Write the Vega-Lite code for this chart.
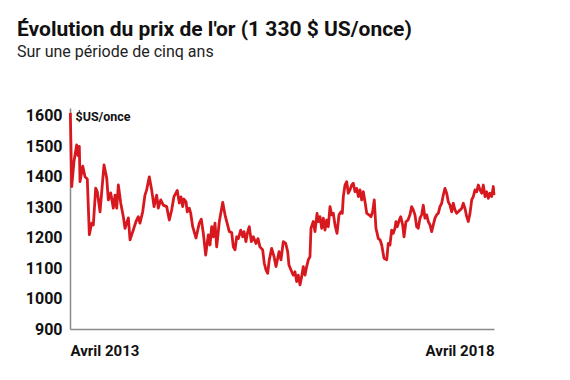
{
  "$schema": "https://vega.github.io/schema/vega-lite/v6.json",
  "width": 424,
  "height": 221,
  "autosize": {"type": "none"},
  "padding": {"left": 70, "top": 108, "right": 76, "bottom": 51},
  "background": "white",
  "config": {"view": {"stroke": null}},
  "title": {
    "text": "Évolution du prix de l'or (1 330 $ US/once)",
    "subtitle": "Sur une période de cinq ans",
    "anchor": "start",
    "frame": "group",
    "dx": -53,
    "offset": 48,
    "font": "Roboto",
    "fontSize": 21,
    "fontWeight": "bold",
    "color": "#111111",
    "subtitleFont": "Roboto",
    "subtitleFontSize": 16,
    "subtitleFontWeight": "normal",
    "subtitleColor": "#222222",
    "subtitlePadding": 4
  },
  "data": {
    "values": [
      {"annee": 2013.254, "prix": 1610},
      {"annee": 2013.270, "prix": 1368},
      {"annee": 2013.297, "prix": 1450},
      {"annee": 2013.329, "prix": 1505},
      {"annee": 2013.344, "prix": 1470},
      {"annee": 2013.360, "prix": 1500},
      {"annee": 2013.368, "prix": 1384},
      {"annee": 2013.400, "prix": 1435},
      {"annee": 2013.427, "prix": 1400},
      {"annee": 2013.454, "prix": 1393},
      {"annee": 2013.478, "prix": 1210},
      {"annee": 2013.506, "prix": 1248},
      {"annee": 2013.525, "prix": 1242},
      {"annee": 2013.553, "prix": 1363},
      {"annee": 2013.572, "prix": 1351},
      {"annee": 2013.604, "prix": 1285},
      {"annee": 2013.651, "prix": 1439},
      {"annee": 2013.683, "prix": 1396},
      {"annee": 2013.702, "prix": 1324},
      {"annee": 2013.730, "prix": 1347},
      {"annee": 2013.761, "prix": 1297},
      {"annee": 2013.781, "prix": 1340},
      {"annee": 2013.801, "prix": 1297},
      {"annee": 2013.820, "prix": 1373},
      {"annee": 2013.848, "prix": 1314},
      {"annee": 2013.879, "prix": 1269},
      {"annee": 2013.899, "prix": 1231},
      {"annee": 2013.938, "prix": 1265},
      {"annee": 2013.958, "prix": 1193},
      {"annee": 2013.996, "prix": 1225},
      {"annee": 2014.028, "prix": 1253},
      {"annee": 2014.055, "prix": 1269},
      {"annee": 2014.075, "prix": 1248},
      {"annee": 2014.107, "prix": 1285},
      {"annee": 2014.134, "prix": 1340},
      {"annee": 2014.154, "prix": 1357},
      {"annee": 2014.185, "prix": 1400},
      {"annee": 2014.213, "prix": 1357},
      {"annee": 2014.241, "prix": 1302},
      {"annee": 2014.272, "prix": 1340},
      {"annee": 2014.291, "prix": 1297},
      {"annee": 2014.320, "prix": 1324},
      {"annee": 2014.350, "prix": 1307},
      {"annee": 2014.390, "prix": 1302},
      {"annee": 2014.421, "prix": 1258},
      {"annee": 2014.449, "prix": 1291},
      {"annee": 2014.476, "prix": 1335},
      {"annee": 2014.515, "prix": 1355},
      {"annee": 2014.539, "prix": 1314},
      {"annee": 2014.559, "prix": 1334},
      {"annee": 2014.579, "prix": 1302},
      {"annee": 2014.594, "prix": 1327},
      {"annee": 2014.618, "prix": 1318},
      {"annee": 2014.633, "prix": 1285},
      {"annee": 2014.657, "prix": 1297},
      {"annee": 2014.673, "prix": 1281},
      {"annee": 2014.697, "prix": 1236},
      {"annee": 2014.736, "prix": 1199},
      {"annee": 2014.775, "prix": 1248},
      {"annee": 2014.798, "prix": 1261},
      {"annee": 2014.822, "prix": 1215},
      {"annee": 2014.850, "prix": 1143},
      {"annee": 2014.881, "prix": 1209},
      {"annee": 2014.901, "prix": 1176},
      {"annee": 2014.921, "prix": 1236},
      {"annee": 2014.940, "prix": 1203},
      {"annee": 2014.960, "prix": 1248},
      {"annee": 2014.980, "prix": 1170},
      {"annee": 2015.011, "prix": 1253},
      {"annee": 2015.051, "prix": 1316},
      {"annee": 2015.078, "prix": 1275},
      {"annee": 2015.098, "prix": 1253},
      {"annee": 2015.129, "prix": 1220},
      {"annee": 2015.157, "prix": 1217},
      {"annee": 2015.176, "prix": 1170},
      {"annee": 2015.196, "prix": 1160},
      {"annee": 2015.216, "prix": 1203},
      {"annee": 2015.235, "prix": 1197},
      {"annee": 2015.263, "prix": 1225},
      {"annee": 2015.287, "prix": 1203},
      {"annee": 2015.302, "prix": 1220},
      {"annee": 2015.325, "prix": 1187},
      {"annee": 2015.341, "prix": 1214},
      {"annee": 2015.364, "prix": 1236},
      {"annee": 2015.388, "prix": 1187},
      {"annee": 2015.412, "prix": 1203},
      {"annee": 2015.443, "prix": 1181},
      {"annee": 2015.467, "prix": 1197},
      {"annee": 2015.490, "prix": 1170},
      {"annee": 2015.522, "prix": 1160},
      {"annee": 2015.541, "prix": 1116},
      {"annee": 2015.561, "prix": 1094},
      {"annee": 2015.581, "prix": 1083},
      {"annee": 2015.600, "prix": 1127},
      {"annee": 2015.628, "prix": 1165},
      {"annee": 2015.656, "prix": 1138},
      {"annee": 2015.679, "prix": 1105},
      {"annee": 2015.715, "prix": 1154},
      {"annee": 2015.738, "prix": 1127},
      {"annee": 2015.765, "prix": 1187},
      {"annee": 2015.794, "prix": 1181},
      {"annee": 2015.817, "prix": 1154},
      {"annee": 2015.832, "prix": 1110},
      {"annee": 2015.856, "prix": 1094},
      {"annee": 2015.883, "prix": 1077},
      {"annee": 2015.903, "prix": 1088},
      {"annee": 2015.923, "prix": 1056},
      {"annee": 2015.942, "prix": 1077},
      {"annee": 2015.962, "prix": 1045},
      {"annee": 2015.982, "prix": 1072},
      {"annee": 2016.001, "prix": 1105},
      {"annee": 2016.021, "prix": 1077},
      {"annee": 2016.041, "prix": 1105},
      {"annee": 2016.060, "prix": 1127},
      {"annee": 2016.080, "prix": 1138},
      {"annee": 2016.092, "prix": 1231},
      {"annee": 2016.119, "prix": 1253},
      {"annee": 2016.139, "prix": 1220},
      {"annee": 2016.163, "prix": 1280},
      {"annee": 2016.178, "prix": 1253},
      {"annee": 2016.198, "prix": 1269},
      {"annee": 2016.218, "prix": 1231},
      {"annee": 2016.237, "prix": 1264},
      {"annee": 2016.257, "prix": 1225},
      {"annee": 2016.277, "prix": 1258},
      {"annee": 2016.296, "prix": 1236},
      {"annee": 2016.316, "prix": 1302},
      {"annee": 2016.336, "prix": 1275},
      {"annee": 2016.355, "prix": 1280},
      {"annee": 2016.375, "prix": 1242},
      {"annee": 2016.399, "prix": 1214},
      {"annee": 2016.422, "prix": 1275},
      {"annee": 2016.446, "prix": 1285},
      {"annee": 2016.461, "prix": 1280},
      {"annee": 2016.473, "prix": 1335},
      {"annee": 2016.493, "prix": 1373},
      {"annee": 2016.513, "prix": 1384},
      {"annee": 2016.532, "prix": 1346},
      {"annee": 2016.552, "prix": 1357},
      {"annee": 2016.572, "prix": 1373},
      {"annee": 2016.591, "prix": 1379},
      {"annee": 2016.611, "prix": 1351},
      {"annee": 2016.631, "prix": 1362},
      {"annee": 2016.650, "prix": 1335},
      {"annee": 2016.670, "prix": 1357},
      {"annee": 2016.690, "prix": 1324},
      {"annee": 2016.709, "prix": 1351},
      {"annee": 2016.729, "prix": 1318},
      {"annee": 2016.749, "prix": 1280},
      {"annee": 2016.776, "prix": 1275},
      {"annee": 2016.799, "prix": 1269},
      {"annee": 2016.819, "prix": 1285},
      {"annee": 2016.838, "prix": 1324},
      {"annee": 2016.858, "prix": 1231},
      {"annee": 2016.886, "prix": 1197},
      {"annee": 2016.906, "prix": 1193},
      {"annee": 2016.926, "prix": 1176},
      {"annee": 2016.953, "prix": 1132},
      {"annee": 2016.985, "prix": 1127},
      {"annee": 2017.003, "prix": 1181},
      {"annee": 2017.023, "prix": 1176},
      {"annee": 2017.043, "prix": 1225},
      {"annee": 2017.062, "prix": 1214},
      {"annee": 2017.082, "prix": 1231},
      {"annee": 2017.094, "prix": 1253},
      {"annee": 2017.110, "prix": 1236},
      {"annee": 2017.133, "prix": 1258},
      {"annee": 2017.150, "prix": 1269},
      {"annee": 2017.173, "prix": 1242},
      {"annee": 2017.189, "prix": 1203},
      {"annee": 2017.212, "prix": 1253},
      {"annee": 2017.236, "prix": 1258},
      {"annee": 2017.259, "prix": 1275},
      {"annee": 2017.279, "prix": 1302},
      {"annee": 2017.298, "prix": 1291},
      {"annee": 2017.318, "prix": 1275},
      {"annee": 2017.338, "prix": 1236},
      {"annee": 2017.357, "prix": 1231},
      {"annee": 2017.377, "prix": 1264},
      {"annee": 2017.397, "prix": 1275},
      {"annee": 2017.416, "prix": 1307},
      {"annee": 2017.436, "prix": 1264},
      {"annee": 2017.456, "prix": 1275},
      {"annee": 2017.475, "prix": 1253},
      {"annee": 2017.495, "prix": 1242},
      {"annee": 2017.515, "prix": 1220},
      {"annee": 2017.534, "prix": 1242},
      {"annee": 2017.554, "prix": 1264},
      {"annee": 2017.574, "prix": 1275},
      {"annee": 2017.593, "prix": 1280},
      {"annee": 2017.613, "prix": 1302},
      {"annee": 2017.633, "prix": 1313},
      {"annee": 2017.652, "prix": 1340},
      {"annee": 2017.672, "prix": 1362},
      {"annee": 2017.692, "prix": 1346},
      {"annee": 2017.711, "prix": 1318},
      {"annee": 2017.731, "prix": 1307},
      {"annee": 2017.751, "prix": 1285},
      {"annee": 2017.770, "prix": 1313},
      {"annee": 2017.790, "prix": 1291},
      {"annee": 2017.810, "prix": 1280},
      {"annee": 2017.829, "prix": 1285},
      {"annee": 2017.849, "prix": 1291},
      {"annee": 2017.869, "prix": 1296},
      {"annee": 2017.888, "prix": 1313},
      {"annee": 2017.908, "prix": 1296},
      {"annee": 2017.928, "prix": 1269},
      {"annee": 2017.947, "prix": 1253},
      {"annee": 2017.967, "prix": 1280},
      {"annee": 2017.987, "prix": 1324},
      {"annee": 2018.006, "prix": 1335},
      {"annee": 2018.026, "prix": 1357},
      {"annee": 2018.046, "prix": 1351},
      {"annee": 2018.065, "prix": 1373},
      {"annee": 2018.085, "prix": 1357},
      {"annee": 2018.105, "prix": 1346},
      {"annee": 2018.124, "prix": 1373},
      {"annee": 2018.144, "prix": 1335},
      {"annee": 2018.164, "prix": 1351},
      {"annee": 2018.183, "prix": 1329},
      {"annee": 2018.203, "prix": 1346},
      {"annee": 2018.223, "prix": 1335},
      {"annee": 2018.242, "prix": 1368},
      {"annee": 2018.250, "prix": 1340}
    ]
  },
  "mark": {"type": "line", "color": "#d7191f", "strokeWidth": 2.8, "strokeJoin": "round"},
  "encoding": {
    "x": {
      "field": "annee",
      "type": "quantitative",
      "scale": {"domain": [2013.25, 2018.25], "nice": false, "zero": false},
      "axis": {
        "title": null,
        "values": [2013.25, 2018.25],
        "labelExpr": "datum.value < 2015 ? 'Avril 2013' : 'Avril 2018'",
        "labelFlush": true,
        "ticks": false,
        "grid": false,
        "domainColor": "#8a8a8a",
        "domainWidth": 1.5,
        "labelFont": "Roboto",
        "labelFontWeight": "bold",
        "labelFontSize": 15,
        "labelColor": "#111111",
        "labelPadding": 14
      }
    },
    "y": {
      "field": "prix",
      "type": "quantitative",
      "scale": {"domain": [900, 1626], "nice": false, "zero": false},
      "axis": {
        "title": "$US/once",
        "titleAngle": 0,
        "titleX": 5,
        "titleY": 8,
        "titleAlign": "left",
        "titleBaseline": "middle",
        "titleFont": "Roboto",
        "titleFontWeight": "bold",
        "titleFontSize": 12.5,
        "titleColor": "#111111",
        "values": [900, 1000, 1100, 1200, 1300, 1400, 1500, 1600],
        "format": "d",
        "ticks": false,
        "grid": false,
        "domainColor": "#8a8a8a",
        "domainWidth": 1.5,
        "labelFont": "Roboto",
        "labelFontWeight": "bold",
        "labelFontSize": 16,
        "labelColor": "#111111",
        "labelPadding": 8
      }
    }
  }
}
